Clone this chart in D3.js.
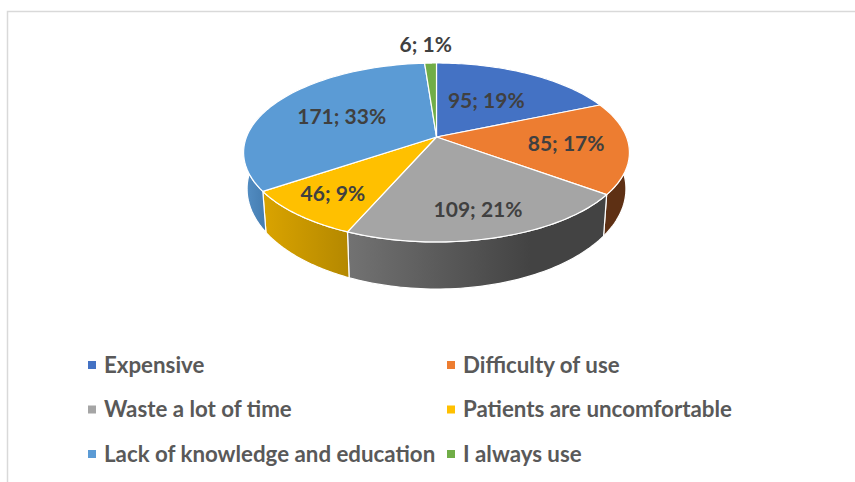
<!DOCTYPE html>
<html>
<head>
<meta charset="utf-8">
<script src="https://cdn.jsdelivr.net/npm/d3@7/dist/d3.min.js"></script>
<style>
html, body { margin: 0; padding: 0; background: #fff; }
svg { display: block; }
text { font-family: Lato, "Open Sans", sans-serif; font-weight: 700; }
</style>
</head>
<body>
<div id="chart"></div>
<script>
var categories = ["Expensive", "Difficulty of use", "Waste a lot of time", "Patients are uncomfortable", "Lack of knowledge and education", "I always use"]
var counts = [95, 85, 109, 46, 171, 6]
var percentLabels = ["19%", "17%", "21%", "9%", "33%", "1%"]
var topColors = ["#4472c4", "#ed7d31", "#a5a5a5", "#ffc000", "#5b9bd5", "#70ad47"]

var width = 855, height = 482
var apexX = 436.5, apexY = 137
var radiusX = 190, radiusY = 86.8, tilt = 0.173

// perspective: far side of the disc is squeezed, so apex sits above ellipse centre
function project(angle, r) {
    var u = Math.sin(angle) * r, v = Math.cos(angle) * r, w = 1 + tilt * v
    return [radiusX * u / w, radiusY * v / w]
}
function topPoint(angle, r) {
    var p = project(angle, r)
    return [apexX + p[0], apexY - p[1]]
}
function bottomPoint(angle) {
    var p = project(angle, 1)
    return [apexX + p[0] * 0.982, apexY + 34.5 - p[1] * 1.12]
}
function arcAngles(d) {
    return d3.range(0, 61).map(function(i) { return d.startAngle + (d.endAngle - d.startAngle) * i / 60 })
}

var svg = d3.select("#chart").append("svg").attr("width", width).attr("height", height)

svg.append("path")
    .attr("d", "M7.5," + height + "V11.5H" + width)
    .attr("fill", "none")
    .attr("stroke", "#d9d9d9")
    .attr("stroke-width", 1.5)

var defs = svg.append("defs")
function wallGradient(id, from, to, x1, x2) {
    var g = defs.append("linearGradient").attr("id", id).attr("gradientUnits", "userSpaceOnUse")
        .attr("x1", x1).attr("x2", x2).attr("y1", 0).attr("y2", 0)
    g.append("stop").attr("offset", 0).attr("stop-color", from)
    g.append("stop").attr("offset", 1).attr("stop-color", to)
    return "url(#" + id + ")"
}
var wallColors = [
    "#2f5597",
    "#5e3014",
    wallGradient("wallGrey", "#727272", "#434343", 349, 530),
    wallGradient("wallYellow", "#d9a300", "#b48800", 265, 349),
    wallGradient("wallBlue", "#5590c6", "#447cb0", 243, 266),
    "#4e7a31"
]

var slices = d3.pie().sort(null).value(function(d) { return d })(counts)
var line = d3.line()

var walls = svg.append("g")
// far walls get covered by the top face anyway
slices.forEach(function(d) {
    var angles = arcAngles(d)
    var pts = angles.map(function(a) { return topPoint(a, 1) })
        .concat(angles.slice().reverse().map(bottomPoint))
    walls.append("path")
        .attr("d", line(pts) + "Z")
        .attr("fill", wallColors[d.index])
        .attr("stroke", "#fff")
        .attr("stroke-width", 1.2)
        .attr("stroke-linejoin", "round")
})

var faces = svg.append("g")
slices.forEach(function(d) {
    var pts = [[apexX, apexY]].concat(arcAngles(d).map(function(a) { return topPoint(a, 1) }))
    faces.append("path")
        .attr("d", line(pts) + "Z")
        .attr("fill", topColors[d.index])
        .attr("stroke", "#fff")
        .attr("stroke-width", 1.2)
        .attr("stroke-linejoin", "round")
})

var labelNudge = [[-8, 3.5], [15, 1], [8.5, 17], [-25, 13], [3.5, 1], [-7, -45.5]]
slices.forEach(function(d) {
    var p = topPoint((d.startAngle + d.endAngle) / 2, 0.6)
    svg.append("text")
        .attr("x", p[0] + labelNudge[d.index][0])
        .attr("y", p[1] + labelNudge[d.index][1])
        .attr("dy", "0.35em")
        .attr("text-anchor", "middle")
        .attr("font-size", 21)
        .attr("fill", "#404040")
        .text(counts[d.index] + "; " + percentLabels[d.index])
})

var legendX = d3.scaleOrdinal().domain([0, 1]).range([88, 447])
var legendY = d3.scalePoint().domain([0, 1, 2]).range([365, 454])
categories.forEach(function(name, i) {
    var col = i % 2, row = Math.floor(i / 2)
    var item = svg.append("g").attr("transform", "translate(" + legendX(col) + "," + legendY(row) + ")")
    item.append("rect")
        .attr("x", 0).attr("y", -4).attr("width", 8).attr("height", 8)
        .attr("fill", topColors[i])
    item.append("text")
        .attr("x", 16)
        .attr("dy", "0.35em")
        .attr("font-size", 22.3)
        .attr("fill", "#595959")
        .text(name)
})
</script>
</body>
</html>
